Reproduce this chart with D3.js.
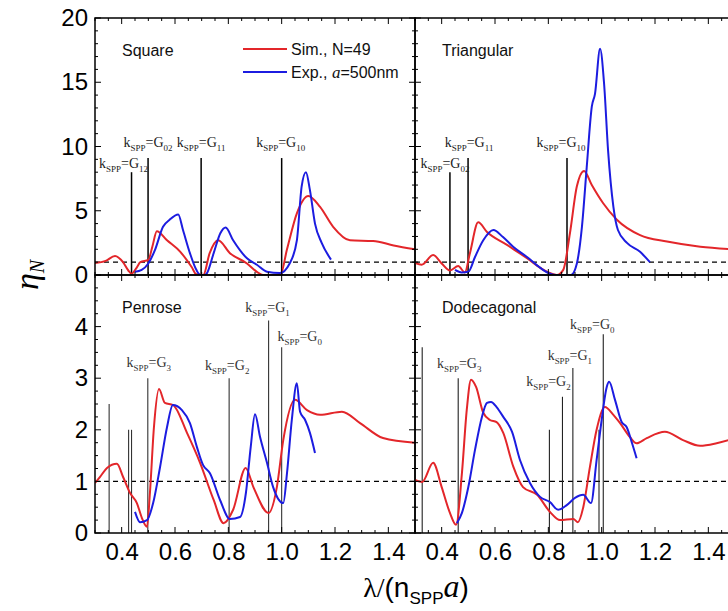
<!DOCTYPE html>
<html><head><meta charset="utf-8">
<script src="https://cdn.jsdelivr.net/npm/d3@7/dist/d3.min.js"></script>
<style>body{margin:0;background:#fff}svg{display:block}</style>
</head><body><svg id="c" width="728" height="611"></svg>
<script>
// ---------- data ----------
const squareSim = [[0.3,0.93],[0.34,1.1],[0.375,1.48],[0.405,1.0],[0.425,0.35],[0.437,0.1],[0.457,0.6],[0.47,1.0],[0.5,1.17],[0.515,2.2],[0.532,3.4],[0.57,2.7],[0.62,1.8],[0.663,0.6],[0.68,0.05],[0.706,0.0],[0.73,1.7],[0.762,2.7],[0.806,1.7],[0.87,0.9],[0.907,0.25],[0.93,0.0],[0.995,0.0],[1.02,2.0],[1.057,4.8],[1.1,6.15],[1.144,5.3],[1.193,3.75],[1.256,2.7],[1.343,2.65],[1.42,2.3],[1.5,2.0]];
const squareExp = [[0.45,0.25],[0.475,0.4],[0.5,0.9],[0.525,1.95],[0.555,3.75],[0.58,4.3],[0.612,4.7],[0.63,3.5],[0.656,1.7],[0.68,0.4],[0.695,0.0],[0.71,0.0],[0.72,0.15],[0.745,1.7],[0.77,3.25],[0.79,3.7],[0.818,2.7],[0.87,1.3],[0.907,0.8],[0.945,0.25],[0.993,0.15],[1.03,0.9],[1.057,2.7],[1.075,6.9],[1.091,8.0],[1.106,6.6],[1.125,4.0],[1.15,2.5],[1.185,1.2]];
const triSim = [[0.3,0.93],[0.325,0.8],[0.368,1.55],[0.4,0.9],[0.431,0.35],[0.462,0.7],[0.487,0.2],[0.506,1.7],[0.537,4.1],[0.57,3.35],[0.645,2.35],[0.72,1.3],[0.795,0.25],[0.832,0.0],[0.856,0.4],[0.881,3.25],[0.907,6.9],[0.934,8.1],[0.963,7.0],[1.005,5.6],[1.057,4.3],[1.144,3.1],[1.245,2.6],[1.37,2.2],[1.5,2.0]];
const triExp = [[0.45,0.4],[0.475,0.2],[0.5,0.25],[0.525,1.4],[0.556,2.7],[0.594,3.5],[0.63,2.95],[0.668,2.2],[0.72,1.4],[0.77,0.55],[0.806,0.1],[0.83,0.0],[0.885,0.0],[0.907,0.9],[0.926,3.75],[0.944,8.4],[0.963,13.1],[0.975,14.1],[0.994,17.6],[1.009,14.9],[1.024,9.7],[1.044,5.3],[1.061,3.5],[1.095,2.5],[1.144,1.8],[1.181,1.0]];
const penSim = [[0.3,0.97],[0.319,1.09],[0.345,1.26],[0.382,1.34],[0.405,1.09],[0.431,0.78],[0.457,0.58],[0.476,0.29],[0.495,0.12],[0.506,0.78],[0.521,2.05],[0.54,2.79],[0.562,2.52],[0.593,2.48],[0.645,1.94],[0.694,1.36],[0.745,0.64],[0.782,0.19],[0.818,0.45],[0.865,1.26],[0.894,0.89],[0.951,0.39],[0.982,0.89],[1.006,1.8],[1.05,2.58],[1.095,2.38],[1.144,2.29],[1.226,2.35],[1.294,2.13],[1.38,1.84],[1.5,1.75]];
const penExp = [[0.45,0.41],[0.469,0.21],[0.495,0.25],[0.518,0.58],[0.544,1.28],[0.57,2.05],[0.592,2.48],[0.626,2.38],[0.656,2.13],[0.682,1.67],[0.705,1.32],[0.731,1.16],[0.769,0.64],[0.806,0.27],[0.844,0.31],[0.866,0.78],[0.884,1.67],[0.9,2.3],[0.919,1.86],[0.945,1.36],[0.968,0.89],[1.006,0.58],[1.02,1.16],[1.038,2.19],[1.057,2.9],[1.069,2.35],[1.088,2.19],[1.106,1.94],[1.125,1.55]];
const dodSim = [[0.3,1.03],[0.327,0.99],[0.368,1.36],[0.4,0.89],[0.431,0.39],[0.454,0.16],[0.476,1.16],[0.494,2.38],[0.51,2.97],[0.529,2.83],[0.556,2.33],[0.581,2.19],[0.606,2.15],[0.631,1.94],[0.669,1.28],[0.705,0.89],[0.758,0.74],[0.806,0.41],[0.844,0.25],[0.894,0.27],[0.911,0.21],[0.931,0.5],[0.956,1.28],[0.981,2.0],[1.012,2.44],[1.044,2.29],[1.069,2.13],[1.106,1.86],[1.131,1.74],[1.169,1.84],[1.237,1.96],[1.305,1.8],[1.369,1.69],[1.431,1.74],[1.5,1.84]];
const dodExp = [[0.457,0.19],[0.476,0.39],[0.5,0.89],[0.525,1.61],[0.551,2.25],[0.57,2.52],[0.585,2.54],[0.606,2.44],[0.631,2.25],[0.664,1.96],[0.694,1.41],[0.731,0.97],[0.769,0.7],[0.806,0.6],[0.837,0.45],[0.869,0.54],[0.9,0.68],[0.931,0.74],[0.96,0.58],[0.981,1.41],[1.0,2.19],[1.019,2.83],[1.028,2.93],[1.05,2.58],[1.075,2.15],[1.094,2.05],[1.114,1.74],[1.131,1.45]];

// resonance markers: [x, height, subscript label or null]
const squareMarks = [[0.437,8.0,"12"],[0.499,9.1,"02"],[0.698,9.1,"11"],[1.0,9.1,"10"]];
const triMarks = [[0.431,8.0,"02"],[0.499,9.1,"11"],[0.87,9.1,"10"]];
const penMarks = [[0.353,2.5,null],[0.426,2.0,null],[0.437,2.0,null],[0.498,3.0,"3"],[0.803,3.0,"2"],[0.951,4.12,"1"],[1.0,3.6,"0"]];
const dodMarks = [[0.327,3.6,null],[0.462,3.0,"3"],[0.804,2.0,null],[0.853,2.64,"2"],[0.892,3.2,"1"],[0.99,2.0,null],[1.006,3.85,"0"]];

const xTicks = [0.4,0.6,0.8,1.0,1.2,1.4];
const yTicksTop = [0,5,10,15,20];
const yTicksBot = [0,1,2,3,4];
const panelNames = ["Square","Triangular","Penrose","Dodecagonal"];
const legendLabels = ["Sim., N=49","Exp., "];

// ---------- layout ----------
// label offsets [dx, dy] relative to marker top (px)
const labelOff = {
  Square:[[-8,-4],[0,-11],[0,-11],[-1,-11]],
  Triangular:[[-5,-4],[1,-11],[-6,-11]],
  Penrose:[null,null,null,[1,-11],[-2,-8],[-1,-8],[18,-6]],
  Dodecagonal:[null,[1,-10],null,[-14,-11],[-3,-8],null,[-11,-5]]
};

const svg = d3.select("#c");
const RED = "#e3262a", BLUE = "#1c1ce0";
const L = 95, M = 415, R = 735, T = 18, MID = 275, B = 533;
const xL = d3.scaleLinear().domain([0.3,1.5]).range([L,M]);
const xR = d3.scaleLinear().domain([0.3,1.5]).range([M,R]);
const yTop = d3.scaleLinear().domain([0,20]).range([MID,T]);
const yBot = d3.scaleLinear().domain([0,5]).range([B,MID]);

const panels = [
  {name:"Square", x:xL, y:yTop, sim:squareSim, exp:squareExp, marks:squareMarks, top:true, markColor:"#000", markW:1.5},
  {name:"Triangular", x:xR, y:yTop, sim:triSim, exp:triExp, marks:triMarks, top:true, markColor:"#000", markW:1.5},
  {name:"Penrose", x:xL, y:yBot, sim:penSim, exp:penExp, marks:penMarks, top:false, markColor:"#333", markW:1.1},
  {name:"Dodecagonal", x:xR, y:yBot, sim:dodSim, exp:dodExp, marks:dodMarks, top:false, markColor:"#222", markW:1.1}
];

const defs = svg.append("defs");
panels.forEach((p,i)=>{
  defs.append("clipPath").attr("id","clip"+i).append("rect")
    .attr("x",p.x.range()[0]).attr("y",p.y.range()[1])
    .attr("width",p.x.range()[1]-p.x.range()[0]).attr("height",p.y.range()[0]-p.y.range()[1]);
});

function subLabel(g, x, y, sub, color, size){
  const t = g.append("text").attr("x",x).attr("y",y).attr("text-anchor","middle")
    .attr("font-family","'Liberation Serif','Times New Roman',serif").attr("font-size",size).attr("fill",color);
  t.append("tspan").text("k");
  t.append("tspan").attr("dy",4).attr("font-size",size*0.64).text("SPP");
  t.append("tspan").attr("dy",-4).text("=G");
  t.append("tspan").attr("dy",4).attr("font-size",size*0.64).text(sub);
}

panels.forEach((p,i)=>{
  const g = svg.append("g");
  const x = p.x, y = p.y;
  const x0 = x.range()[0], x1 = x.range()[1], y0 = y.range()[0], y1 = y.range()[1];
  const cg = g.append("g").attr("clip-path","url(#clip"+i+")");
  // dashed line at 1
  cg.append("line").attr("x1",x0).attr("x2",x1).attr("y1",y(1)).attr("y2",y(1))
    .attr("stroke","#000").attr("stroke-width",1.2).attr("stroke-dasharray","5,4");
  // markers
  p.marks.forEach(m=>{
    cg.append("line").attr("x1",x(m[0])).attr("x2",x(m[0])).attr("y1",y(0)).attr("y2",y(m[1]))
      .attr("stroke",p.markColor).attr("stroke-width",p.markW);
  });
  const line = d3.line().x(d=>x(d[0])).y(d=>y(d[1])).curve(d3.curveMonotoneX);
  cg.append("path").attr("d",line(p.sim)).attr("fill","none").attr("stroke",RED).attr("stroke-width",2);
  cg.append("path").attr("d",line(p.exp)).attr("fill","none").attr("stroke",BLUE).attr("stroke-width",2);
  // marker labels
  p.marks.forEach((m,k)=>{
    if(!m[2]) return;
    const o = labelOff[p.name][k];
    subLabel(g, x(m[0])+o[0], y(m[1])+o[1], m[2], p.top?"#222":"#333", 14);
  });
  // panel name
  g.append("text").attr("x",x0+27).attr("y",y1+38).attr("font-family","'Liberation Sans',Arial,sans-serif")
    .attr("font-size",16).attr("fill","#111").text(p.name);

  // frame
  g.append("rect").attr("x",x0).attr("y",y1).attr("width",x1-x0).attr("height",y0-y1)
    .attr("fill","none").attr("stroke","#000").attr("stroke-width",1.5);

  // x ticks (top and bottom, inward)
  const xMinor = d3.range(0.3,1.5001,0.05);
  xMinor.forEach(v=>{
    const isMaj = Math.abs(Math.round(v*5)-v*5)<1e-6;
    const len = isMaj?6:3;
    g.append("line").attr("x1",x(v)).attr("x2",x(v)).attr("y1",y1).attr("y2",y1+len).attr("stroke","#000").attr("stroke-width",1);
    g.append("line").attr("x1",x(v)).attr("x2",x(v)).attr("y1",y0).attr("y2",y0-len).attr("stroke","#000").attr("stroke-width",1);
  });
  // y ticks (left and right, inward)
  const ystep = p.top?1:0.25, ymaj = p.top?5:1;
  const yMax = y.domain()[1];
  d3.range(0,yMax+1e-6,ystep).forEach(v=>{
    const isMaj = Math.abs(Math.round(v/ymaj)-v/ymaj)<1e-6;
    const len = isMaj?6:3;
    g.append("line").attr("x1",x0).attr("x2",x0+len).attr("y1",y(v)).attr("y2",y(v)).attr("stroke","#000").attr("stroke-width",1);
    g.append("line").attr("x1",x1).attr("x2",x1-len).attr("y1",y(v)).attr("y2",y(v)).attr("stroke","#000").attr("stroke-width",1);
  });
  // tick labels
  if(!p.top){
    const ax = d3.axisBottom(x).tickValues(xTicks).tickFormat(d3.format(".1f")).tickSize(0).tickPadding(10);
    const a = svg.append("g").attr("transform",`translate(0,${y0})`).call(ax);
    a.select(".domain").remove();
    a.selectAll("text").attr("font-family","'Liberation Sans',Arial,sans-serif").attr("font-size",24).attr("fill","#000");
  }
  if(x0===L){
    const ax = d3.axisLeft(y).tickValues(p.top?yTicksTop:yTicksBot).tickFormat(d3.format("d")).tickSize(0).tickPadding(7);
    const a = svg.append("g").attr("transform",`translate(${x0},0)`).call(ax);
    a.select(".domain").remove();
    a.selectAll("text").attr("font-family","'Liberation Sans',Arial,sans-serif").attr("font-size",24).attr("fill","#000");
  }
});

// legend
const lg = svg.append("g").attr("font-family","'Liberation Sans',Arial,sans-serif").attr("font-size",16).attr("fill","#111");
lg.append("line").attr("x1",243).attr("x2",287).attr("y1",49).attr("y2",49).attr("stroke",RED).attr("stroke-width",2);
lg.append("text").attr("x",291).attr("y",55).text(legendLabels[0]);
lg.append("line").attr("x1",243).attr("x2",287).attr("y1",72).attr("y2",72).attr("stroke",BLUE).attr("stroke-width",2);
const t2 = lg.append("text").attr("x",291).attr("y",78);
t2.append("tspan").text(legendLabels[1]);
t2.append("tspan").attr("font-family","'Liberation Serif',serif").attr("font-style","italic").attr("font-size",17).text("a");
t2.append("tspan").text("=500nm");

// axis titles
const xt = svg.append("text").attr("x",416).attr("y",597).attr("text-anchor","middle")
  .attr("font-family","'Liberation Sans',Arial,sans-serif").attr("font-size",28).attr("fill","#000");
xt.append("tspan").attr("font-family","'Liberation Serif',serif").text("λ/");
xt.append("tspan").text("(n");
xt.append("tspan").attr("dy",7).attr("font-size",17).text("SPP");
xt.append("tspan").attr("dy",-7).attr("font-family","'Liberation Serif',serif").attr("font-style","italic").attr("font-size",32).text("a");
xt.append("tspan").text(")");

const yt = svg.append("text").attr("transform","translate(38,275) rotate(-90)").attr("text-anchor","middle")
  .attr("font-family","'Liberation Serif',serif").attr("font-style","italic").attr("font-size",34).attr("fill","#000");
yt.append("tspan").text("η");
yt.append("tspan").attr("dy",6).attr("font-size",20).text("N");
</script></body></html>
